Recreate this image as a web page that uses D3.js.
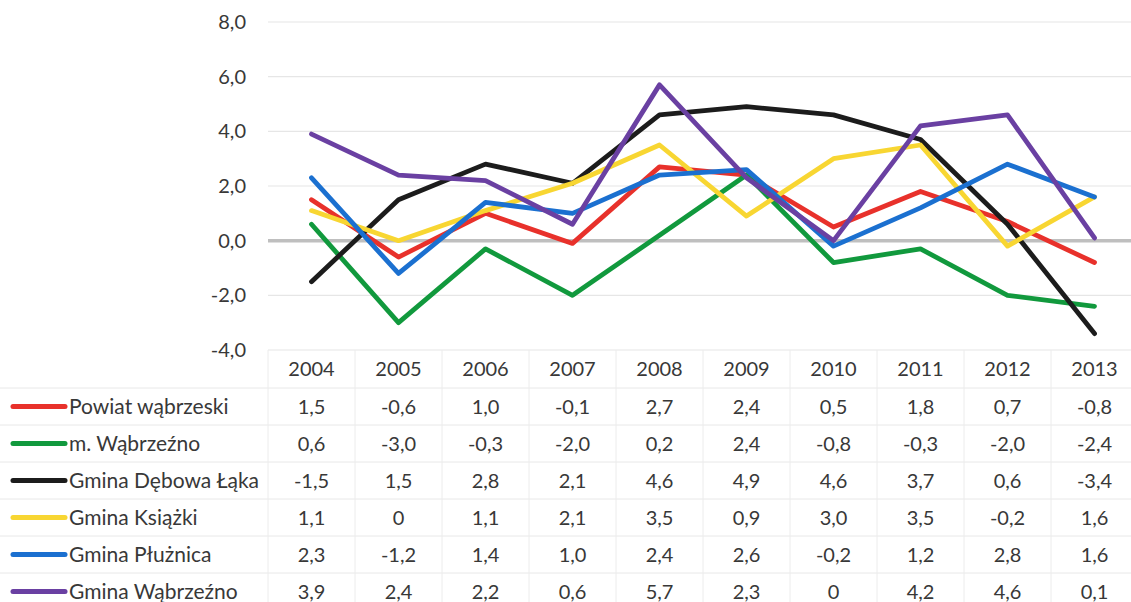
<!DOCTYPE html>
<html><head><meta charset="utf-8">
<script src="https://cdn.jsdelivr.net/npm/d3@7"></script>
<style>body{margin:0;background:#fff}svg{display:block}</style>
</head><body>
<svg id="c" width="1131" height="602"></svg>
<script>
const years = ["2004","2005","2006","2007","2008","2009","2010","2011","2012","2013"];
const seriesNames = ["Powiat wąbrzeski","m. Wąbrzeźno","Gmina Dębowa Łąka","Gmina Książki","Gmina Płużnica","Gmina Wąbrzeźno"];
const seriesColors = ["#e8312b","#11993d","#1c1c1c","#f8d632","#1b70d0","#6a40a2"];
const powiat = [1.5,-0.6,1.0,-0.1,2.7,2.4,0.5,1.8,0.7,-0.8];
const mWabrzezno = [0.6,-3.0,-0.3,-2.0,0.2,2.4,-0.8,-0.3,-2.0,-2.4];
const debowaLaka = [-1.5,1.5,2.8,2.1,4.6,4.9,4.6,3.7,0.6,-3.4];
const ksiazki = [1.1,0,1.1,2.1,3.5,0.9,3.0,3.5,-0.2,1.6];
const pluznica = [2.3,-1.2,1.4,1.0,2.4,2.6,-0.2,1.2,2.8,1.6];
const gWabrzezno = [3.9,2.4,2.2,0.6,5.7,2.3,0,4.2,4.6,0.1];
const tableLabels = [
  ["1,5","-0,6","1,0","-0,1","2,7","2,4","0,5","1,8","0,7","-0,8"],
  ["0,6","-3,0","-0,3","-2,0","0,2","2,4","-0,8","-0,3","-2,0","-2,4"],
  ["-1,5","1,5","2,8","2,1","4,6","4,9","4,6","3,7","0,6","-3,4"],
  ["1,1","0","1,1","2,1","3,5","0,9","3,0","3,5","-0,2","1,6"],
  ["2,3","-1,2","1,4","1,0","2,4","2,6","-0,2","1,2","2,8","1,6"],
  ["3,9","2,4","2,2","0,6","5,7","2,3","0","4,2","4,6","0,1"]
];
const yTicks = [-4,-2,0,2,4,6,8];

(function(){
const data = [powiat,mWabrzezno,debowaLaka,ksiazki,pluznica,gWabrzezno];
const svg = d3.select("#c");
const font = "Lato, 'Open Sans', sans-serif";
const txt = "#383838";
const pLeft = 268, pRight = 1138, pTop = 22, pBottom = 350;
const x = d3.scaleBand().domain(years).range([pLeft,pRight]);
const y = d3.scaleLinear().domain([-4,8]).range([pBottom,pTop]);
const cx = d => x(d) + x.bandwidth()/2;

// gridlines
svg.append("g").selectAll("line").data(yTicks.filter(t=>t!==0)).join("line")
  .attr("x1",pLeft).attr("x2",1131).attr("y1",d=>y(d)).attr("y2",d=>y(d))
  .attr("stroke","#e6e6e6").attr("stroke-width",1.2);
svg.append("line").attr("x1",pLeft).attr("x2",1131).attr("y1",y(0)).attr("y2",y(0))
  .attr("stroke","#bfbfbf").attr("stroke-width",3.5);

// y axis labels
const yAxis = d3.axisLeft(y).tickValues(yTicks).tickSize(0).tickPadding(0)
  .tickFormat(d=>d3.format(".1f")(d).replace(".",",").replace("−","-"));
const ga = svg.append("g").attr("transform",`translate(246,0)`).call(yAxis);
ga.select(".domain").remove();
ga.selectAll("text").attr("font-family",font).attr("font-size",20).attr("fill",txt);

// table lines
const rowTop = 388, rowH = 37;
const hLines = d3.range(0,6).map(i=>rowTop+i*rowH);
svg.append("g").selectAll("line").data(hLines).join("line")
  .attr("x1",0).attr("x2",1131).attr("y1",d=>d).attr("y2",d=>d)
  .attr("stroke","#e8e8e8").attr("stroke-width",1);
const vBounds = years.map(d=>x(d)).concat([pRight]);
svg.append("g").selectAll("line").data(vBounds).join("line")
  .attr("x1",d=>d).attr("x2",d=>d).attr("y1",pBottom).attr("y2",602)
  .attr("stroke","#ececec").attr("stroke-width",1);

// header years
svg.append("g").selectAll("text").data(years).join("text")
  .attr("x",d=>cx(d)).attr("y",376).attr("text-anchor","middle")
  .attr("font-family",font).attr("font-size",20).attr("fill",txt).text(d=>d);

// lines
const line = d3.line().x((d,i)=>cx(years[i])).y(d=>y(d));
svg.append("g").selectAll("path").data(data).join("path")
  .attr("d",line).attr("fill","none")
  .attr("stroke",(d,i)=>seriesColors[i]).attr("stroke-width",4.8)
  .attr("stroke-linejoin","round").attr("stroke-linecap","round");

// table rows
const rows = svg.append("g").selectAll("g").data(seriesNames).join("g")
  .attr("transform",(d,i)=>`translate(0,${rowTop + rowH*i + rowH/2})`);
rows.append("line").attr("x1",13).attr("x2",65).attr("y1",0).attr("y2",0)
  .attr("stroke",(d,i)=>seriesColors[i]).attr("stroke-width",5).attr("stroke-linecap","round");
rows.append("text").attr("x",69).attr("y",7).attr("font-family",font).attr("font-size",21)
  .attr("fill",txt).text(d=>d);
rows.each(function(d,i){
  d3.select(this).selectAll("text.v").data(tableLabels[i]).join("text").attr("class","v")
    .attr("x",(v,j)=>cx(years[j])).attr("y",7).attr("text-anchor","middle")
    .attr("font-family",font).attr("font-size",20).attr("fill",txt).text(v=>v);
});
})();
</script>
</body></html>
